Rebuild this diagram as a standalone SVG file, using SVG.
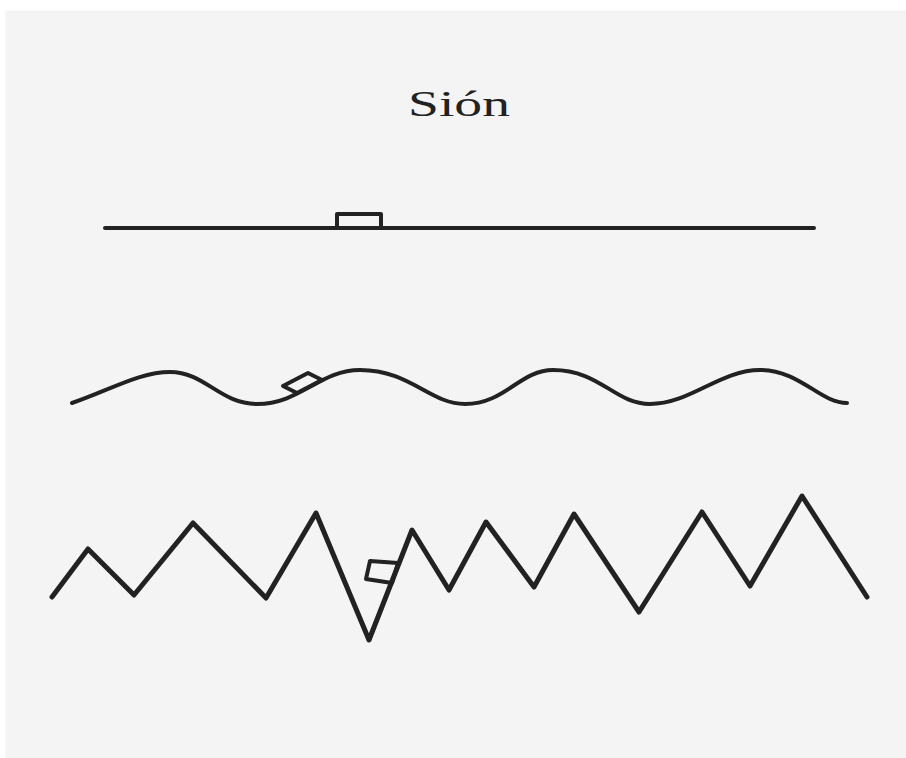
<svg xmlns="http://www.w3.org/2000/svg" width="906" height="758" viewBox="0 0 906 758">
<style>
.ln{fill:none;stroke:#222;stroke-width:4;stroke-linejoin:round;stroke-linecap:round}
.zz{fill:none;stroke:#222;stroke-width:5;stroke-linejoin:round;stroke-linecap:round}
.t{font-family:"Liberation Serif","Times New Roman",serif;font-size:35px;fill:#222}
</style>
<rect x="0" y="0" width="906" height="758" fill="#ffffff"/>
<rect x="5.5" y="10.5" width="900.5" height="747.5" fill="#f4f4f4"/>
<g id="title"><text class="t" x="408" y="116" textLength="102" lengthAdjust="spacingAndGlyphs">Sión</text></g>
<g id="flat">
<line class="ln" x1="105" y1="228" x2="814" y2="228"/>
<rect class="ln" x="337" y="214" width="44" height="14"/>
</g>
<g id="wave">
<path class="ln" d="M72,403 C110,390 140,372 170,372 C205,372 220,404 257,404 C300,404 320,370 360,370 C410,370 430,404 465,404 C505,404 520,370 553,370 C600,370 615,404 650,404 C690,404 720,370 760,370 C800,370 820,403 847,403"/>
<polygon class="ln" points="283,386 308,373 322,380 297,393"/>
</g>
<g id="zigzag">
<polyline class="zz" points="52,597 88,549 134,595 193,523 266,598 316,513 369,640 412,530 449,590 486,522 534,587 574,514 639,612 702,512 750,586 802,496 867,597"/>
<polygon class="ln" points="370,561 398,563 392,583 366,579"/>
</g>
</svg>
